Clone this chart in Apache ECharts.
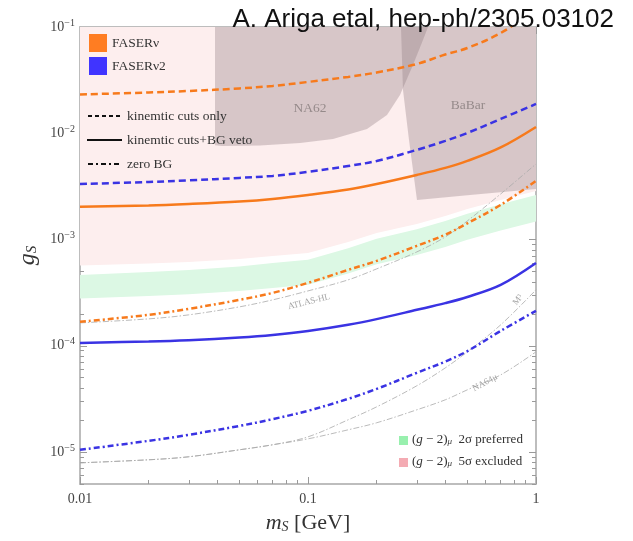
<!DOCTYPE html>
<html>
<head>
<meta charset="utf-8">
<script src="https://cdn.jsdelivr.net/npm/echarts@6/dist/echarts.min.js"></script>
<style>
  html, body { margin: 0; padding: 0; background: #fff; }
  #chart { width: 633px; height: 541px; }
</style>
</head>
<body>
<div id="chart"></div>
<script>
const mass = [0.01, 0.02, 0.03, 0.05, 0.07, 0.1, 0.15, 0.2, 0.3, 0.4, 0.5, 0.7, 1];

// FASERnu (orange) and FASERnu2 (blue) reach in g_S
const faserCuts   = [0.0232, 0.0242, 0.0250, 0.0264, 0.0279, 0.0304, 0.0339, 0.0373, 0.0449, 0.0551, 0.0634, 0.0878, 0.145];
const faser2Cuts  = [0.00333, 0.00348, 0.00360, 0.00380, 0.00397, 0.00433, 0.00492, 0.00548, 0.00697, 0.00847, 0.01007, 0.01363, 0.01887];
const faserVeto   = [0.00203, 0.00209, 0.00216, 0.00228, 0.00241, 0.00263, 0.00296, 0.00333, 0.00405, 0.00472, 0.00549, 0.00735, 0.01146];
const faser2Veto  = [1.064e-4, 1.096e-4, 1.128e-4, 1.195e-4, 1.262e-4, 1.375e-4, 1.574e-4, 1.780e-4, 2.178e-4, 2.520e-4, 2.880e-4, 3.745e-4, 6.02e-4];
const faserZero   = [1.679e-4, 1.954e-4, 2.225e-4, 2.703e-4, 3.145e-4, 3.908e-4, 5.18e-4, 6.29e-4, 8.71e-4, 1.110e-3, 1.420e-3, 2.116e-3, 3.56e-3];
const faser2Zero  = [1.049e-5, 1.274e-5, 1.452e-5, 1.760e-5, 2.040e-5, 2.443e-5, 3.165e-5, 3.927e-5, 5.56e-5, 7.10e-5, 8.90e-5, 1.380e-4, 2.13e-4];

// other projections (thin grey)
const atlasHL = [1.641e-4, 1.791e-4, 1.954e-4, 2.323e-4, 2.703e-4, 3.282e-4, 4.17e-4, 5.29e-4, 7.64e-4, 1.057e-3, 1.496e-3, 2.685e-3, 5.14e-3];
const na64mu  = [7.91e-6, 8.45e-6, 9.02e-6, 1.049e-5, 1.17e-5, 1.33e-5, 1.618e-5, 1.884e-5, 2.495e-5, 3.10e-5, 3.85e-5, 5.32e-5, 8.77e-5];
const m3      = [7.91e-6, 8.45e-6, 9.02e-6, 1.049e-5, 1.17e-5, 1.39e-5, 2.009e-5, 2.66e-5, 4.20e-5, 6.19e-5, 8.77e-5, 1.574e-4, 3.36e-4];

// (g-2)_mu bands
const g2Excluded    = [5.706e-4, 5.957e-4, 6.154e-4, 6.566e-4, 7.008e-4, 7.48e-4, 9.49e-4, 1.153e-3, 1.402e-3, 1.667e-3, 1.940e-3, 2.358e-3, 2.866e-3];
const g2PreferredHi = [4.645e-4, 4.934e-4, 5.153e-4, 5.57e-4, 6.0e-4, 6.46e-4, 8.28e-4, 1.0153e-3, 1.247e-3, 1.493e-3, 1.748e-3, 2.144e-3, 2.627e-3];
const g2PreferredLo = [2.792e-4, 2.935e-4, 3.052e-4, 3.278e-4, 3.504e-4, 3.759e-4, 4.788e-4, 5.845e-4, 7.15e-4, 8.52e-4, 9.96e-4, 1.2156e-3, 1.480e-3];

// existing bounds, outline as [m_S, g_S]
const na62Bound  = [[0.0391, 0.1], [0.0391, 7.7e-3], [0.0420, 7.6e-3], [0.0616, 7.68e-3], [0.0923, 8.11e-3], [0.1287, 8.84e-3], [0.1815, 0.01098], [0.2221, 0.01487], [0.2532, 0.02292], [0.2887, 0.0439], [0.3194, 0.0754], [0.336, 0.1]];
const babarBound = [[0.2558, 0.1], [0.261, 0.02555], [0.2773, 8.65e-3], [0.3006, 2.36e-3], [0.5135, 2.63e-3], [1, 2.99e-3], [1, 0.1]];

// text labels inside the plot: [m_S, g_S, text, rotate]
const notes = [
  [0.102, 0.0173, 'NA62', 0],
  [0.503, 0.01845, 'BaBar', 0],
  [0.101, 2.59e-4, 'ATLAS-HL', 14],
  [0.834, 2.70e-4, 'M³', 52],
  [0.5975, 4.48e-5, 'NA64μ', 28]
];

// ticks
const xMajor = [0.01, 0.1, 1];
const yMajor = [1e-5, 1e-4, 1e-3, 1e-2, 1e-1];
const xMinor = [];
[0.01, 0.1].forEach(d => { for (let k = 2; k <= 9; k++) xMinor.push(+(k * d).toPrecision(3)); });
const yMinor = [];
[1e-6, 1e-5, 1e-4, 1e-3, 1e-2].forEach(d => { for (let k = 2; k <= 9; k++) { const v = +(k * d).toPrecision(3); if (v >= 5e-6) yMinor.push(v); } });

const ORANGE = '#f77a1c';
const BLUE = '#3a33e3';
const GREY = '#a9a9a9';
const SERIF = '"Liberation Serif", "DejaVu Serif", serif';

const chart = echarts.init(document.getElementById('chart'));

function zip(ys) {
  return mass.map((m, i) => [m, ys[i]]);
}

function curve(name, ys, color, width, type) {
  return {
    name: name, type: 'line', data: zip(ys), symbol: 'none', showSymbol: false,
    smooth: 0.35, silent: true, z: 5,
    lineStyle: { color: color, width: width, type: type, cap: 'butt' }
  };
}

function region(name, pts, fill, z) {
  return {
    name: name, type: 'custom', clip: true, silent: true, z: z,
    data: [pts[0]],
    renderItem: function (params, api) {
      return {
        type: 'polygon',
        shape: { points: pts.map(p => api.coord(p)) },
        style: { fill: fill }
      };
    }
  };
}

const pinkPts = [[0.01, 0.1], [1, 0.1]].concat(zip(g2Excluded).reverse());
const greenPts = zip(g2PreferredHi).concat(zip(g2PreferredLo).reverse());

const frame = { show: true, lineStyle: { color: '#b9b9b9', width: 1.5 } };
const tickStyle = { color: '#9a9a9a', width: 1 };

function xAxisOf(pos, values, len, labels) {
  return {
    type: 'log', logBase: 10, min: 0.01, max: 1, position: pos,
    axisLine: frame,
    axisTick: { show: true, inside: true, length: len, customValues: values, lineStyle: tickStyle },
    axisLabel: labels ? {
      show: true, customValues: values, margin: 8, color: '#444',
      fontSize: 14, fontFamily: SERIF,
      formatter: v => String(v)
    } : { show: false },
    splitLine: { show: false },
    minorTick: { show: false }
  };
}

function yAxisOf(pos, values, len, labels) {
  return {
    type: 'log', logBase: 10, min: 5e-6, max: 0.1, position: pos,
    axisLine: frame,
    axisTick: { show: true, inside: true, length: len, customValues: values, lineStyle: tickStyle },
    axisLabel: labels ? {
      show: true, customValues: values, margin: 5, color: '#444',
      formatter: v => '{b|10}{s|−' + Math.round(-Math.log10(v)) + '}',
      rich: {
        b: { fontSize: 14, fontFamily: SERIF, color: '#444', lineHeight: 18 },
        s: { fontSize: 10, fontFamily: SERIF, color: '#444', verticalAlign: 'top', lineHeight: 12 }
      }
    } : { show: false },
    splitLine: { show: false },
    minorTick: { show: false }
  };
}

const xAxes = [
  xAxisOf('bottom', xMajor, 7, true),
  xAxisOf('bottom', xMinor, 4, false),
  xAxisOf('top', xMajor, 7, false),
  xAxisOf('top', xMinor, 4, false)
];
Object.assign(xAxes[0], {
  name: '{i|m}{sub|S} [GeV]', nameLocation: 'middle', nameGap: 28,
  nameTextStyle: {
    fontSize: 22, fontFamily: SERIF, color: '#333',
    rich: {
      i: { fontSize: 22, fontFamily: SERIF, fontStyle: 'italic', color: '#333' },
      sub: { fontSize: 14, fontFamily: SERIF, fontStyle: 'italic', color: '#333', verticalAlign: 'bottom' }
    }
  }
});

const yAxes = [
  yAxisOf('left', yMajor, 7, true),
  yAxisOf('left', yMinor, 4, false),
  yAxisOf('right', yMajor, 7, false),
  yAxisOf('right', yMinor, 4, false)
];
Object.assign(yAxes[0], {
  name: '{i|g}{sub|S}', nameLocation: 'middle', nameGap: 40, nameRotate: 90,
  nameTextStyle: {
    fontSize: 24, fontFamily: SERIF, color: '#333',
    rich: {
      i: { fontSize: 24, fontFamily: SERIF, fontStyle: 'italic', color: '#333' },
      sub: { fontSize: 15, fontFamily: SERIF, fontStyle: 'italic', color: '#333', verticalAlign: 'bottom' }
    }
  }
});

const legendText = { fill: '#333', fontSize: 13.5, fontFamily: SERIF, verticalAlign: 'middle' };
const g2Rich = {
  i: { fontSize: 13, fontFamily: SERIF, fontStyle: 'italic', fill: '#333' },
  sub: { fontSize: 9, fontFamily: SERIF, fontStyle: 'italic', fill: '#333', verticalAlign: 'bottom' }
};

const options = {
  animation: false,
  backgroundColor: '#fff',
  title: {
    text: 'A. Ariga etal, hep-ph/2305.03102',
    right: 14, top: 2,
    textStyle: { fontSize: 26, fontWeight: 'normal', fontFamily: '"Liberation Sans", Arial, sans-serif', color: '#111' }
  },
  grid: { left: 80, right: 97, top: 27, bottom: 57, containLabel: false, outerBoundsMode: 'none' },
  xAxis: xAxes,
  yAxis: yAxes,
  series: [
    region('g-2 excluded', pinkPts, '#fdeeee', 1),
    region('g-2 preferred', greenPts, '#dcf8e4', 1),
    region('NA62', na62Bound, 'rgba(140,118,124,0.33)', 2),
    region('BaBar', babarBound, 'rgba(140,118,124,0.33)', 2),
    curve('ATLAS-HL', atlasHL, GREY, 0.8, [6, 2, 1.5, 2]),
    curve('M3', m3, GREY, 0.8, [6, 2, 1.5, 2]),
    curve('NA64mu', na64mu, GREY, 0.8, [6, 2, 1.5, 2]),
    curve('FASERnu cuts', faserCuts, ORANGE, 2.5, [7, 4]),
    curve('FASERnu2 cuts', faser2Cuts, BLUE, 2.5, [7, 4]),
    curve('FASERnu veto', faserVeto, ORANGE, 2.5, 'solid'),
    curve('FASERnu2 veto', faser2Veto, BLUE, 2.5, 'solid'),
    curve('FASERnu zero BG', faserZero, ORANGE, 2.5, [6, 3, 2, 3]),
    curve('FASERnu2 zero BG', faser2Zero, BLUE, 2.5, [6, 3, 2, 3]),
    {
      name: 'notes', type: 'scatter', symbolSize: 0, silent: true, z: 6,
      data: notes.map(n => ({
        value: [n[0], n[1]],
        label: {
          show: true, position: 'inside', formatter: n[2], rotate: n[3],
          color: n[3] ? '#8d8d8d' : '#857a7b',
          fontSize: n[3] ? 9 : 13.5, fontFamily: SERIF
        }
      }))
    }
  ],
  graphic: [
    { type: 'rect', shape: { x: 89, y: 34, width: 18, height: 18 }, style: { fill: '#ff7d22' }, z: 10 },
    { type: 'text', x: 112, y: 43, style: Object.assign({ text: 'FASERν' }, legendText), z: 10 },
    { type: 'rect', shape: { x: 89, y: 57, width: 18, height: 18 }, style: { fill: '#4034ff' }, z: 10 },
    { type: 'text', x: 112, y: 66, style: Object.assign({ text: 'FASERν2' }, legendText), z: 10 },
    { type: 'line', shape: { x1: 88, y1: 116, x2: 120, y2: 116 }, style: { stroke: '#111', lineWidth: 2.2, lineDash: [4, 3] }, z: 10 },
    { type: 'text', x: 127, y: 116, style: Object.assign({ text: 'kinemtic cuts only' }, legendText), z: 10 },
    { type: 'line', shape: { x1: 87, y1: 140, x2: 122, y2: 140 }, style: { stroke: '#111', lineWidth: 1.8 }, z: 10 },
    { type: 'text', x: 127, y: 140, style: Object.assign({ text: 'kinemtic cuts+BG veto' }, legendText), z: 10 },
    { type: 'line', shape: { x1: 88, y1: 164, x2: 120, y2: 164 }, style: { stroke: '#111', lineWidth: 2.2, lineDash: [5, 3, 2, 3] }, z: 10 },
    { type: 'text', x: 127, y: 164, style: Object.assign({ text: 'zero BG' }, legendText), z: 10 },
    { type: 'rect', shape: { x: 399, y: 436, width: 9, height: 9 }, style: { fill: '#98f0ae' }, z: 10 },
    { type: 'text', x: 412, y: 440, style: Object.assign({}, legendText, { fontSize: 13, text: '({i|g} − 2){sub|μ}  2σ preferred', rich: g2Rich }), z: 10 },
    { type: 'rect', shape: { x: 399, y: 458, width: 9, height: 9 }, style: { fill: '#f4abb3' }, z: 10 },
    { type: 'text', x: 412, y: 462, style: Object.assign({}, legendText, { fontSize: 13, text: '({i|g} − 2){sub|μ}  5σ excluded', rich: g2Rich }), z: 10 }
  ]
};

chart.setOption(options);
</script>
</body>
</html>
